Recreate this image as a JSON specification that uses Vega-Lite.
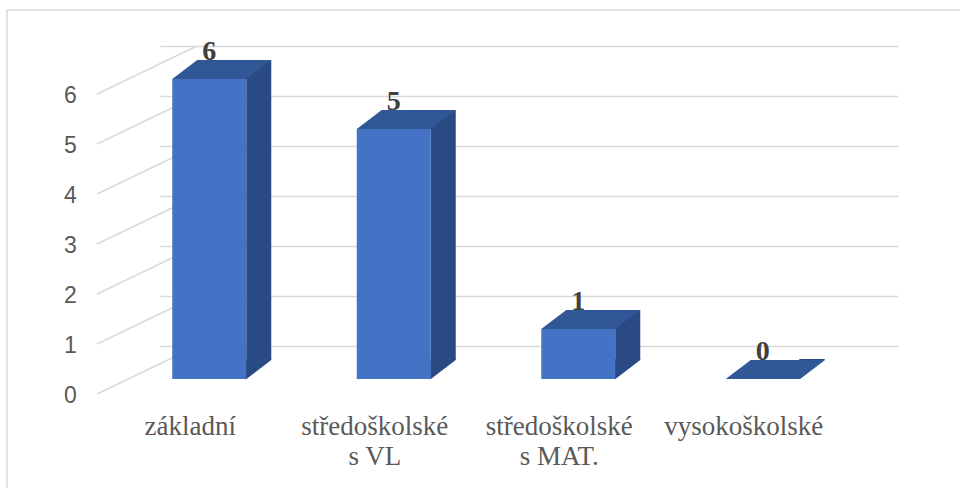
{
  "$schema": "https://vega.github.io/schema/vega-lite/v6.json",
  "width": 960,
  "height": 485,
  "autosize": {"type": "none"},
  "padding": {"left": 7, "top": 10, "right": -7, "bottom": -7},
  "background": "white",
  "config": {
    "view": {"stroke": "#D9D9D9", "strokeWidth": 1.5},
    "axisX": {"domain": false, "ticks": false, "tickSize": 0, "grid": false, "title": null, "labelAngle": 0, "labelFont": "Liberation Serif", "labelFontSize": 27, "labelColor": "#595959", "labelBaseline": "top", "labelLineHeight": 30, "labelPadding": -81.3, "labelOffset": -62, "labelAlign": "center", "labelLimit": 400, "labelOverlap": false},
    "axisY": {"domain": false, "ticks": false, "tickSize": 0, "grid": true, "gridColor": "#D9D9D9", "gridWidth": 1.5, "title": null, "format": "d", "labelFont": "Liberation Sans", "labelFontSize": 23, "labelColor": "#595959", "labelAlign": "center", "labelBaseline": "middle", "labelPadding": -63, "labelOffset": 49}
  },
  "datasets": {
    "edu": [
      {"kategorie": "základní", "pocet": 6},
      {"kategorie": "středoškolské s VL", "pocet": 5},
      {"kategorie": "středoškolské s MAT.", "pocet": 1},
      {"kategorie": "vysokoškolské", "pocet": 0}
    ],
    "ticks": [{"t": 0}, {"t": 1}, {"t": 2}, {"t": 3}, {"t": 4}, {"t": 5}, {"t": 6}]
  },
  "layer": [
    {
      "data": {"name": "edu"},
      "mark": {"type": "bar", "color": "#2A4A84", "width": 25, "xOffset": 6.5, "yOffset": 14, "y2Offset": 14},
      "encoding": {
        "x": {"field": "kategorie", "type": "nominal", "sort": null,
              "scale": {"range": [153, 891], "paddingInner": 0.6, "paddingOuter": 0.3},
              "axis": {"labelExpr": "indexof(datum.label, ' s ') > 0 ? [substring(datum.label, 0, indexof(datum.label, ' s ')), substring(datum.label, indexof(datum.label, ' s ') + 1)] : datum.label"}},
        "y": {"field": "pocet", "type": "quantitative",
              "scale": {"domain": [0, 6], "range": [336, 36], "nice": false},
              "axis": {"values": [0, 1, 2, 3, 4, 5, 6]}}
      }
    },
    {
      "data": {"name": "ticks"},
      "mark": {"type": "rule", "color": "#D9D9D9", "strokeWidth": 1.5, "xOffset": -118.3, "x2Offset": -55.3, "yOffset": 48, "y2Offset": 0},
      "encoding": {
        "x": {"datum": "základní", "type": "nominal", "bandPosition": 0},
        "x2": {"datum": "základní"},
        "y": {"field": "t", "type": "quantitative"},
        "y2": {"field": "t"}
      }
    },
    {
      "data": {"name": "edu"},
      "mark": {"type": "point", "shape": "M-6.5,13L19,13L19,14L-6.5,33.5Z", "size": 4, "filled": true, "color": "#2A4A84", "opacity": 1, "strokeWidth": 0},
      "encoding": {
        "x": {"field": "kategorie", "type": "nominal", "sort": null},
        "y": {"datum": 0, "type": "quantitative"}
      }
    },
    {
      "data": {"name": "edu"},
      "mark": {"type": "bar", "color": "#4472C4", "width": 74, "xOffset": -43, "yOffset": 33, "y2Offset": 33},
      "encoding": {
        "x": {"field": "kategorie", "type": "nominal", "sort": null},
        "y": {"field": "pocet", "type": "quantitative"}
      }
    },
    {
      "data": {"name": "edu"},
      "mark": {"type": "point", "shape": "M-80,33L-6,33L19,14L-55,14Z", "size": 4, "filled": true, "color": "#325796", "opacity": 1, "strokeWidth": 0},
      "encoding": {
        "x": {"field": "kategorie", "type": "nominal", "sort": null},
        "y": {"field": "pocet", "type": "quantitative"}
      }
    },
    {
      "data": {"name": "edu"},
      "mark": {"type": "text", "font": "Liberation Serif", "fontSize": 28, "fontWeight": "bold", "color": "#404040", "dx": -43, "dy": 14, "baseline": "alphabetic", "align": "center"},
      "encoding": {
        "x": {"field": "kategorie", "type": "nominal", "sort": null},
        "y": {"field": "pocet", "type": "quantitative"},
        "text": {"field": "pocet", "type": "quantitative"}
      }
    }
  ]
}
